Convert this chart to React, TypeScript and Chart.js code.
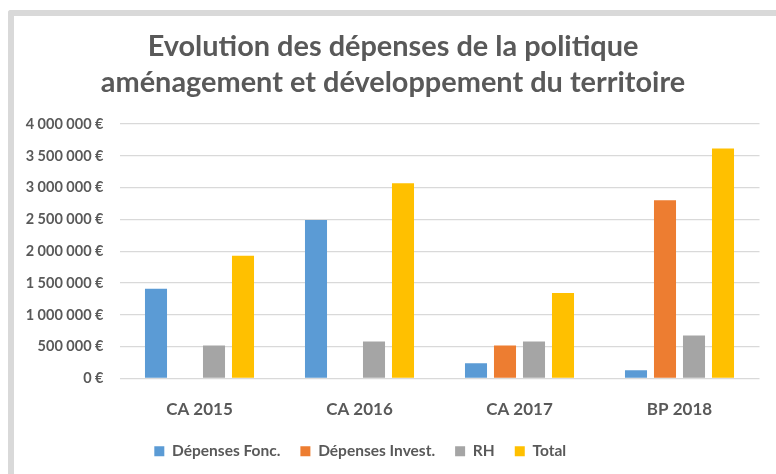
import React, { useEffect, useRef } from "react";
import { Chart, registerables } from "chart.js";

Chart.register(...registerables);

const categories = ["CA 2015", "CA 2016", "CA 2017", "BP 2018"];
const depensesFonc = [1410000, 2490000, 240000, 130000];
const depensesInvest = [0, 0, 520000, 2800000];
const rh = [520000, 580000, 580000, 675000];
const total = [1930000, 3070000, 1345000, 3615000];
const titleLines = [
  "Evolution des dépenses de la politique",
  "aménagement et développement du territoire",
];

const FONT = "Lato, 'Noto Sans', sans-serif";
const TEXT = "#595959";

function fmtEuro(v: number): string {
  const s = Math.round(v).toString().replace(/\B(?=(\d{3})+(?!\d))/g, " ");
  return s + " €";
}

const blockShift = {
  id: "blockShift",
  afterLayout(chart: any) {
    const lg = chart.legend;
    if (lg) {
      lg.left -= 29;
      lg.right -= 29;
    }
    const tb = chart.titleBlock;
    if (tb) {
      tb.left += 3.75;
      tb.right += 3.75;
    }
  },
};

export default function App() {
  const ref = useRef<HTMLCanvasElement | null>(null);
  useEffect(() => {
    if (!ref.current) return;
    const chart = new Chart(ref.current, {
      type: "bar",
      data: {
        labels: categories,
        datasets: [
          { label: "Dépenses Fonc.", data: depensesFonc, backgroundColor: "#5b9bd5" },
          { label: "Dépenses Invest.", data: depensesInvest, backgroundColor: "#ed7d31" },
          { label: "RH", data: rh, backgroundColor: "#a5a5a5" },
          { label: "Total", data: total, backgroundColor: "#ffc000" },
        ],
      },
      plugins: [blockShift],
      options: {
        animation: false,
        responsive: false,
        maintainAspectRatio: false,
        layout: { padding: { left: 19, right: 16.5, top: 0, bottom: 5 } },
        datasets: {
          bar: { categoryPercentage: 0.725, barPercentage: 0.76 },
        },
        plugins: {
          title: {
            display: true,
            text: titleLines,
            color: TEXT,
            font: { family: FONT, size: 28.9, weight: "bold", lineHeight: 1.246 },
            padding: { top: 29, bottom: 23 },
          },
          legend: {
            display: true,
            position: "bottom",
            labels: {
              color: TEXT,
              font: { family: FONT, size: 15.5, weight: "bold" },
              boxWidth: 10,
              boxHeight: 10,
              padding: 20,
            },
          },
          tooltip: { enabled: false },
        },
        scales: {
          x: {
            afterFit: (scale: any) => {
              scale.height = 45;
            },
            grid: { display: false, drawTicks: false },
            border: { display: false },
            ticks: {
              color: TEXT,
              font: { family: FONT, size: 17, weight: "bold" },
              padding: 20.8,
            },
          },
          y: {
            min: 0,
            max: 4000000,
            afterFit: (scale: any) => {
              scale.width = 100.5;
            },
            grid: { color: "#d9d9d9", lineWidth: 1.3, drawTicks: false },
            border: { display: false },
            ticks: {
              stepSize: 500000,
              color: TEXT,
              font: { family: FONT, size: 14.5, weight: "bold" },
              padding: 16,
              callback: (v: any) => fmtEuro(Number(v)),
            },
          },
        },
      },
    } as any);
    return () => chart.destroy();
  }, []);

  return (
    <div style={{ position: "fixed", left: 0, top: 0, width: 776, height: 474, background: "#fff", overflow: "hidden" }}>
      <div
        style={{
          position: "absolute",
          left: 8,
          top: 10,
          width: 800,
          height: 500,
          borderLeft: "6px solid #d9d9d9",
          borderTop: "6px solid #d9d9d9",
          borderTopLeftRadius: 3,
          boxSizing: "border-box",
        }}
      />
      <canvas ref={ref} width={776} height={474} style={{ position: "absolute", left: 0, top: 0, width: 776, height: 474 }} />
    </div>
  );
}
